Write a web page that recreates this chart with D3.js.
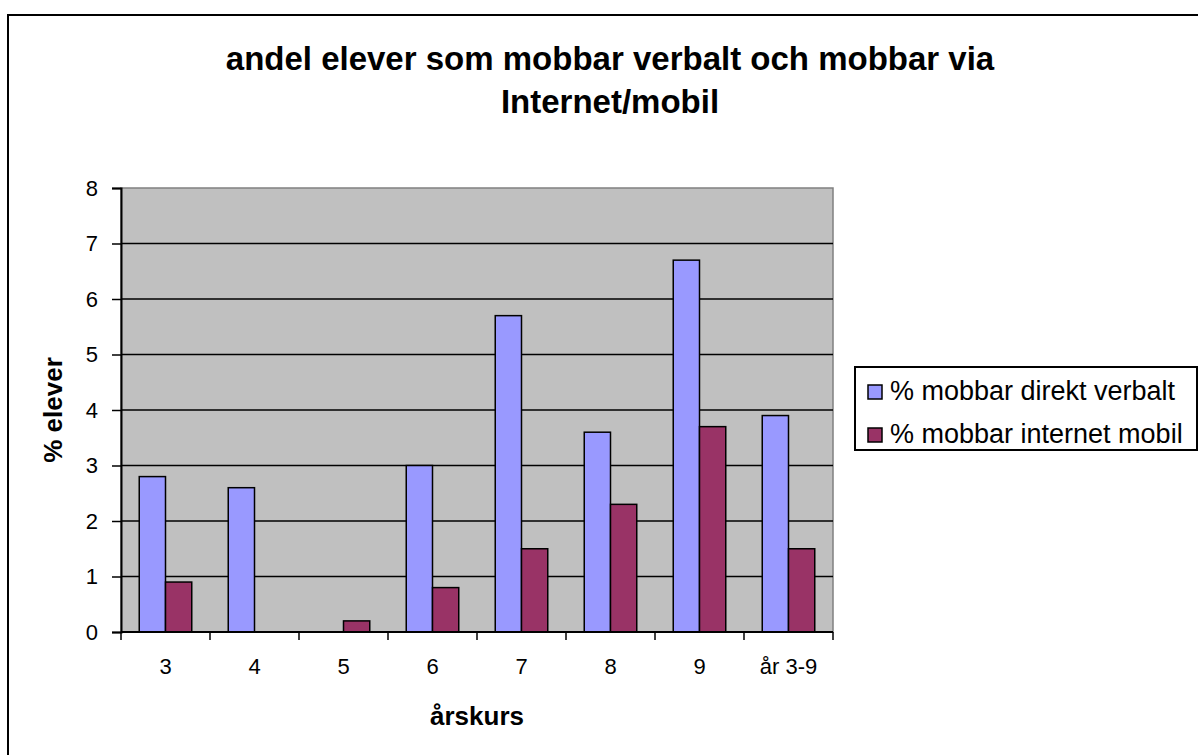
<!DOCTYPE html>
<html>
<head>
<meta charset="utf-8">
<script src="https://cdn.jsdelivr.net/npm/d3@7"></script>
<style>
  body { margin: 0; background: #fff; }
  svg { display: block; font-family: "Liberation Sans", Arial, sans-serif; }
</style>
</head>
<body>
<div id="chart"></div>
<script>
// data
var categories = ["3", "4", "5", "6", "7", "8", "9", "år 3-9"];
var seriesNames = ["% mobbar direkt verbalt", "% mobbar internet mobil"];
var verbalt = [2.8, 2.6, 0, 3.0, 5.7, 3.6, 6.7, 3.9];
var internet = [0.9, 0, 0.2, 0.8, 1.5, 2.3, 3.7, 1.5];
var yTicks = [0, 1, 2, 3, 4, 5, 6, 7, 8];
var colors = ["#9999ff", "#993366"];

var width = 1198, height = 755;
var plot = { left: 121, top: 188, right: 833, bottom: 632 };

var svg = d3.select("#chart").append("svg")
    .attr("width", width)
    .attr("height", height);

// outer frame
svg.append("rect")
    .attr("x", 8).attr("y", 15)
    .attr("width", 1200).attr("height", 760)
    .attr("fill", "#fff")
    .attr("stroke", "#000")
    .attr("stroke-width", 2);

// scales
var x = d3.scaleBand()
    .domain(categories)
    .range([plot.left, plot.right])
    .paddingInner(0.41)
    .paddingOuter(0.205);

var band = d3.scaleBand()
    .domain([0, 1])
    .range([0, x.bandwidth()]);

var xCat = d3.scaleBand()
    .domain(categories)
    .range([plot.left, plot.right]);

var y = d3.scaleLinear()
    .domain([0, 8])
    .range([plot.bottom, plot.top]);

// plot background
svg.append("rect")
    .attr("x", plot.left).attr("y", plot.top)
    .attr("width", plot.right - plot.left)
    .attr("height", plot.bottom - plot.top)
    .attr("fill", "#c0c0c0")
    .attr("stroke", "#808080")
    .attr("stroke-width", 1.5);

// gridlines
svg.append("g")
    .selectAll("line")
    .data(yTicks.filter(d => d > 0 && d < 8))
    .enter()
    .append("line")
    .attr("x1", plot.left).attr("x2", plot.right)
    .attr("y1", d => y(d)).attr("y2", d => y(d))
    .attr("stroke", "#000")
    .attr("stroke-width", 1.5);

// bars
var rows = categories.map((c, i) => ({ cat: c, values: [verbalt[i], internet[i]] }));

var groups = svg.append("g")
    .selectAll("g")
    .data(rows)
    .enter()
    .append("g")
    .attr("transform", d => "translate(" + x(d.cat) + ",0)");

groups.selectAll("rect")
    .data(d => d.values.map((v, k) => ({ k: k, v: v })).filter(e => e.v > 0))
    .enter()
    .append("rect")
    .attr("x", d => band(d.k))
    .attr("y", d => y(d.v))
    .attr("width", band.bandwidth())
    .attr("height", d => y(0) - y(d.v))
    .attr("fill", d => colors[d.k])
    .attr("stroke", "#000")
    .attr("stroke-width", 1.5);

// y axis
var yAxis = d3.axisLeft(y)
    .tickValues(yTicks)
    .tickSize(9)
    .tickPadding(14)
    .tickFormat(d3.format("d"));

var yg = svg.append("g")
    .attr("transform", "translate(" + plot.left + ",0)")
    .call(yAxis);
yg.select(".domain").attr("stroke", "#000").attr("stroke-width", 2);
yg.selectAll(".tick line").attr("stroke", "#000").attr("stroke-width", 1.5);
yg.selectAll(".tick text")
    .attr("font-size", "22px")
    .attr("fill", "#000");

// x axis
svg.append("line")
    .attr("x1", plot.left).attr("x2", plot.right)
    .attr("y1", plot.bottom).attr("y2", plot.bottom)
    .attr("stroke", "#000").attr("stroke-width", 2);

var xTickPos = categories.map(c => xCat(c)).concat([plot.right]);
svg.append("g")
    .selectAll("line")
    .data(xTickPos)
    .enter()
    .append("line")
    .attr("x1", d => d).attr("x2", d => d)
    .attr("y1", plot.bottom).attr("y2", plot.bottom + 8)
    .attr("stroke", "#000").attr("stroke-width", 1.5);

svg.append("g")
    .selectAll("text")
    .data(categories)
    .enter()
    .append("text")
    .attr("x", d => xCat(d) + xCat.bandwidth() / 2)
    .attr("y", 674)
    .attr("text-anchor", "middle")
    .attr("font-size", "22px")
    .text(d => d);

// titles
var title = svg.append("text")
    .attr("text-anchor", "middle")
    .attr("font-size", "33px")
    .attr("font-weight", "bold");
title.append("tspan").attr("x", 610).attr("y", 70).text("andel elever som mobbar verbalt och mobbar via");
title.append("tspan").attr("x", 610).attr("y", 113).text("Internet/mobil");

svg.append("text")
    .attr("x", 477).attr("y", 725)
    .attr("text-anchor", "middle")
    .attr("font-size", "26px")
    .attr("font-weight", "bold")
    .text("årskurs");

svg.append("text")
    .attr("transform", "translate(62,410) rotate(-90)")
    .attr("text-anchor", "middle")
    .attr("font-size", "26px")
    .attr("font-weight", "bold")
    .text("% elever");

// legend
var legend = svg.append("g");
legend.append("rect")
    .attr("x", 855).attr("y", 367)
    .attr("width", 342).attr("height", 83)
    .attr("fill", "#fff")
    .attr("stroke", "#000")
    .attr("stroke-width", 2);

var items = legend.selectAll("g.item")
    .data(seriesNames)
    .enter()
    .append("g")
    .attr("class", "item")
    .attr("transform", (d, i) => "translate(868," + (385 + i * 43) + ")");

items.append("rect")
    .attr("width", 14).attr("height", 14)
    .attr("fill", (d, i) => colors[i])
    .attr("stroke", "#000")
    .attr("stroke-width", 1.5);

items.append("text")
    .attr("x", 22).attr("y", 15)
    .attr("font-size", "27px")
    .text(d => d);
</script>
</body>
</html>
